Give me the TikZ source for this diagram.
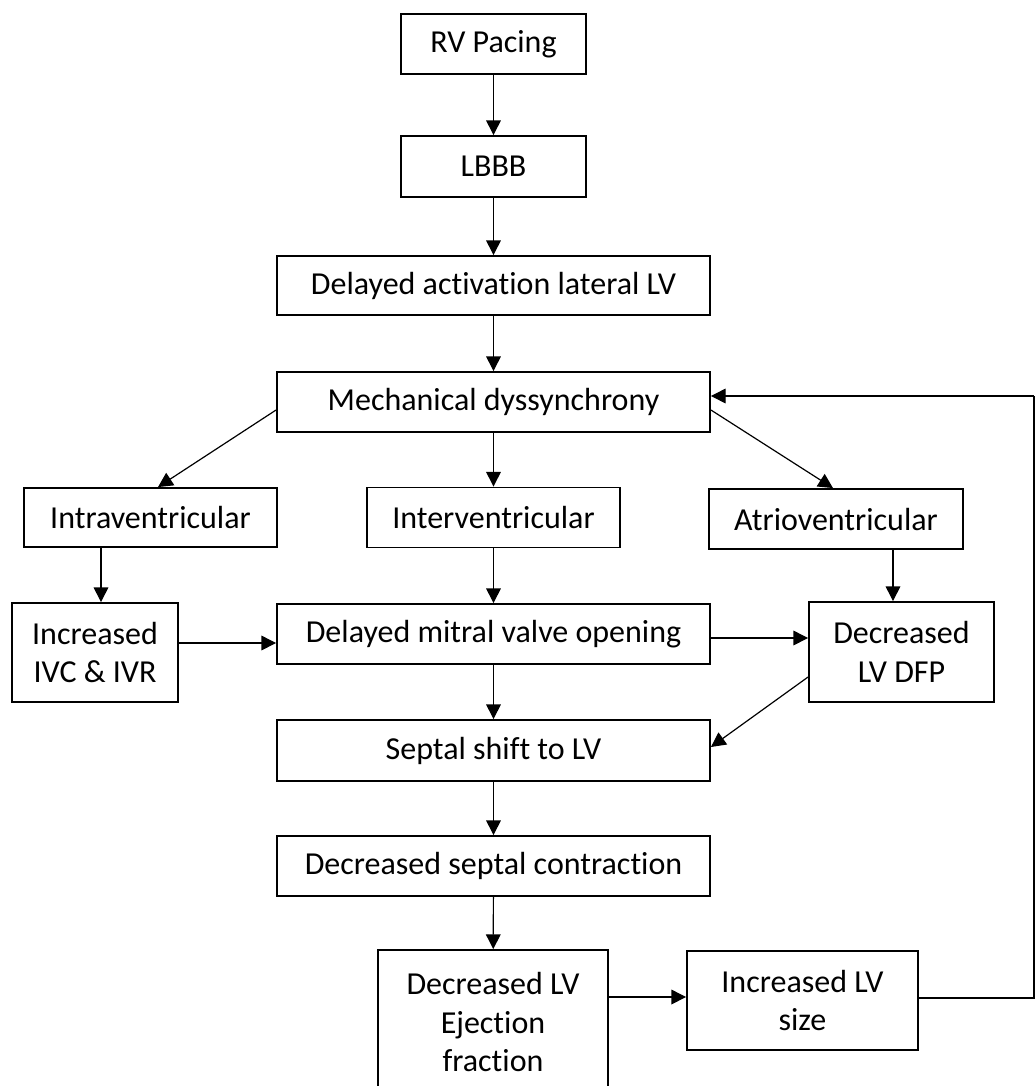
\documentclass[tikz,border=0pt]{standalone}
\usepackage{fontspec}
\setmainfont{Carlito}[RawFeature={-liga;-clig}]
\usetikzlibrary{arrows.meta,calc}
\begin{document}
\begin{tikzpicture}[x=0.75pt,y=-0.75pt,
  box/.style 2 args={draw,line width=1.4pt,fill=white,inner sep=0pt,align=center,
    minimum width=#1*0.75pt,minimum height=#2*0.75pt,
    font=\fontsize{24}{29}\selectfont},
  arr/.style={line width=0.9pt,-{Triangle[length=11pt,width=11pt]}},
  ln/.style={line width=0.9pt}]
\useasboundingbox (0,0) rectangle (1035,1086);
\clip (0,0) rectangle (1035,1086);
\node[box={185}{60}] (rv) at (493.5,44) {RV Pacing};
\node[box={185}{61}] (lbbb) at (493.5,166.5) {LBBB};
\node[box={433}{59}] (act) at (493.5,285.5) {Delayed activation lateral LV};
\node[box={433}{60}] (mech) at (493.5,402) {Mechanical dyssynchrony};
\node[box={253}{59}] (intra) at (150.5,517.5) {Intraventricular};
\node[box={253}{60}] (inter) at (493.5,517.5) {Interventricular};
\node[box={254}{60}] (atrio) at (836,519) {Atrioventricular};
\node[box={166}{99}] (ivc) at (95,652.5) {Increased\\IVC \& IVR};
\node[box={433}{60}] (mitral) at (493.5,634) {Delayed mitral valve opening};
\node[box={185}{100}] (dfp) at (901.5,652) {Decreased\\LV DFP};
\node[box={433}{61}] (septal) at (493.5,750.5) {Septal shift to LV};
\node[box={433}{60}] (contr) at (493.5,866) {Decreased septal contraction};
\node[box={230}{144}] (ef) at (493,1022) {Decreased LV\\Ejection\\fraction};
\node[box={231}{99}] (size) at (802.5,1000.5) {Increased LV\\size};
% vertical main chain
\draw[arr] (rv) -- (lbbb);
\draw[arr] (lbbb) -- (act);
\draw[arr] (act) -- (mech);
\draw[arr] (mech) -- (inter);
\draw[arr] (inter) -- (mitral);
\draw[arr] (mitral) -- (septal);
\draw[arr] (septal) -- (contr);
\draw[arr] (contr) -- (ef);
% diagonals from mechanical dyssynchrony
\draw[arr] ($(mech.west)+(0,8)$) -- ($(intra.north)+(7.5,0)$);
\draw[arr] ($(mech.east)+(0,8)$) -- ($(atrio.north)+(-3,0)$);
% side columns
\coordinate (c1) at ($(ivc.north)+(6,0)$);
\draw[arr] (c1 |- intra.south) -- (c1);
\coordinate (c2) at ($(dfp.north)+(-8.5,0)$);
\draw[arr] (c2 |- atrio.south) -- (c2);
\coordinate (c3) at ($(mitral.west)+(0,9)$);
\draw[arr] (ivc.east |- c3) -- (c3);
\coordinate (c4) at ($(mitral.east)+(0,4)$);
\draw[arr] (c4) -- (dfp.west |- c4);
\draw[arr] ($(dfp.west)+(0,25)$) -- ($(septal.east)+(0,-3.5)$);
\coordinate (c5) at ($(size.west)+(0,-3.5)$);
\draw[arr] (ef.east |- c5) -- (c5);
% feedback loop
\coordinate (c6) at ($(mech.east)+(0,-6)$);
\coordinate (fb1) at (1034,998);
\coordinate (fb2) at (1034,396);
\draw[ln] (size.east |- fb1) -- (fb1) -- (fb2);
\draw[arr] (fb2) -- (c6);
\end{tikzpicture}
\end{document}
